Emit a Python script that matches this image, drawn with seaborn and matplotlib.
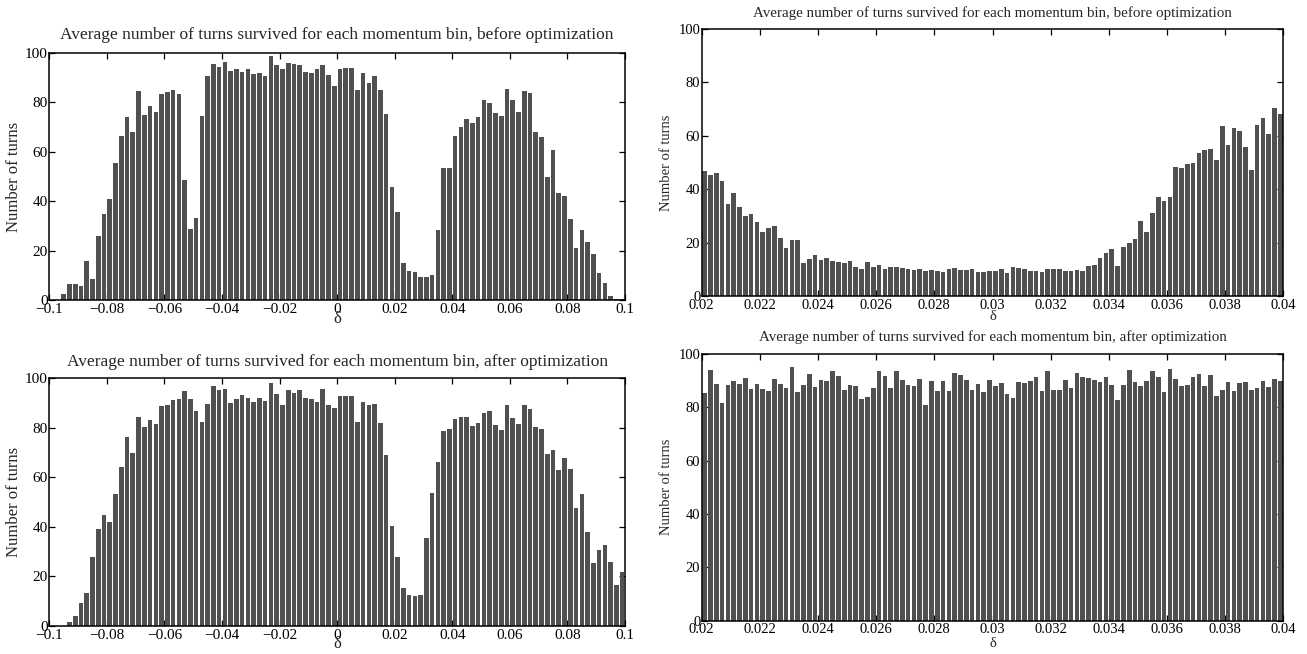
import numpy as np
import pandas as pd
import matplotlib
matplotlib.use("Agg")
import matplotlib.pyplot as plt
import seaborn as sns

# ---------------- data ----------------
left_range = (-0.1, 0.1)      # momentum range, wide panels
right_range = (0.02, 0.04)    # momentum range, zoomed panels
n_bins = 100

before_wide = [0, 0, 2.6, 6.6, 6.7, 5.8, 15.9, 8.5, 26, 35,
               40.8, 55.5, 66.5, 73.9, 68, 84.5, 74.8, 78.5, 75.9, 83.2,
               84.1, 84.9, 83.2, 48.7, 28.7, 33.1, 74.3, 90.7, 95.6, 94.2,
               96.4, 92.5, 93.3, 92.1, 93.5, 91.5, 91.9, 90.6, 98.7, 95.2,
               93.4, 96, 95.4, 95.2, 92.2, 91.7, 93.4, 95, 90.8, 86.7,
               93.5, 93.9, 93.9, 84.8, 91.9, 87.8, 90.7, 84.8, 75.4, 45.8,
               35.7, 15.1, 11.8, 11.3, 9.6, 9.4, 10.2, 28.4, 53.6, 53.4,
               66.5, 69.9, 73.2, 71.7, 74, 80.8, 79.8, 75.5, 74.6, 85.3,
               80.8, 76, 84.5, 83.6, 68.1, 66.1, 49.7, 60.8, 43.2, 42.1,
               32.7, 21, 28.5, 23.7, 18.8, 11, 6.9, 1.6, 0.5, 0.4]

after_wide = [0, 0, 0, 1.7, 4.2, 9.4, 13.3, 27.9, 39.2, 45,
              42.1, 53.2, 64.1, 76.2, 70, 84.5, 80.2, 83, 81.7, 88.7,
              89.1, 91.3, 91.8, 94.8, 91.8, 86.8, 82.5, 89.5, 96.9, 95.2,
              95.6, 89.9, 91.7, 93.4, 91.9, 90.3, 91.9, 91, 98, 93.5,
              89.2, 95.3, 94.2, 95.3, 91.9, 91.5, 90.6, 95.8, 89.2, 88,
              92.7, 93, 93, 82.3, 90.6, 89.1, 89.7, 81.9, 69.1, 40.3,
              28, 15.5, 12.5, 12, 12.5, 35.5, 53.8, 66.3, 78.8, 79.7,
              83.6, 84.4, 84.3, 80.8, 81.9, 85.8, 86.7, 81.3, 79.3, 89.2,
              84, 81.6, 89.2, 87.6, 80.5, 79.4, 69.4, 71, 62.8, 67.9,
              63.4, 47.6, 53.1, 37.9, 25.4, 30.8, 32.9, 25.8, 16.7, 21.9]

before_zoom = [46.9, 45.1, 46.1, 43.1, 34.4, 38.5, 33.4, 30, 30.8, 27.6,
               23.8, 25.6, 26.3, 21.7, 18, 20.8, 20.8, 12.3, 13.8, 15.3,
               13.3, 14.3, 13.1, 12.8, 12.2, 13, 10.8, 10, 12.7, 11,
               11.7, 10.1, 10.7, 10.8, 10.5, 10.1, 9.9, 10, 9.4, 9.6,
               9.4, 9, 10.1, 10.5, 9.9, 9.7, 10.1, 9.1, 9.1, 9.5,
               9.5, 10, 8.7, 10.7, 10.3, 10, 9.4, 9.5, 9, 10,
               10, 10, 9.2, 9.2, 9.7, 9.2, 11.2, 11.5, 14.3, 16,
               17.6, 11.1, 18.3, 19.8, 21.2, 27.9, 24.1, 31, 36.9, 35.5,
               37, 48.4, 47.8, 49.4, 49.9, 53.5, 54.5, 55.1, 50.7, 63.5,
               56.4, 62.7, 61.6, 55.9, 47, 64, 66.5, 60.6, 70.3, 68]

after_zoom = [85.4, 93.9, 88.5, 81.4, 88.1, 89.8, 88.8, 90.9, 86.8, 88.8,
              86.6, 86.1, 90.5, 88.6, 87.1, 95.1, 85.8, 88.4, 92.4, 87.6,
              90, 89.8, 93.5, 91.8, 86.5, 88.1, 87.9, 83, 83.6, 87,
              93.5, 91.6, 87.3, 93.5, 90, 88.1, 87.8, 90.4, 80.9, 89.8,
              85.9, 89.9, 86, 92.8, 92, 90.3, 86.3, 88.8, 85.5, 90.1,
              87.8, 89.1, 84.9, 83.5, 89.5, 88.9, 89.9, 91.4, 86.1, 93.5,
              86.3, 86.3, 90, 87.1, 92.6, 91.4, 90.9, 90.1, 89.5, 91.3,
              88.4, 82.6, 88.1, 94, 89.4, 88, 89.8, 93.4, 91.4, 85.6,
              94.1, 90.5, 87.9, 88.1, 91.4, 92.5, 88, 92, 84, 86.4,
              89.4, 86.1, 89.1, 89.4, 86.4, 87.3, 89.6, 87.4, 90.5, 89.8]

left_xticks = [-0.1, -0.08, -0.06, -0.04, -0.02, 0, 0.02, 0.04, 0.06, 0.08, 0.1]
left_xticklabels = ["\u22120.1", "\u22120.08", "\u22120.06", "\u22120.04", "\u22120.02",
                    "0", "0.02", "0.04", "0.06", "0.08", "0.1"]
right_xticks = [0.02, 0.022, 0.024, 0.026, 0.028, 0.03, 0.032, 0.034, 0.036, 0.038, 0.04]
right_xticklabels = ["0.02", "0.022", "0.024", "0.026", "0.028", "0.03",
                     "0.032", "0.034", "0.036", "0.038", "0.04"]
yticks = [0, 20, 40, 60, 80, 100]
yticklabels = ["0", "20", "40", "60", "80", "100"]

title_before = "Average number of turns survived for each momentum bin, before optimization"
title_after = "Average number of turns survived for each momentum bin, after optimization"

# ---------------- style ----------------
sns.set_style("ticks")
plt.rcParams["font.family"] = ["Liberation Serif", "DejaVu Serif"]
plt.rcParams["axes.linewidth"] = 1.1
plt.rcParams["axes.edgecolor"] = "black"

BAR = "#505050"
W, H = 1307, 654
fig = plt.figure(figsize=(W / 100, H / 100), dpi=100)


def px_axes(x0, x1, y0, y1):
    return fig.add_axes([x0 / W, 1 - y1 / H, (x1 - x0) / W, (y1 - y0) / H])


panels = [
    dict(box=(49.3, 625, 52.7, 300.3), rng=left_range, vals=before_wide, title=title_before,
         xt=left_xticks, xtl=left_xticklabels, fs_title=12.5, fs_tick=11, fs_lab=12,
         ty=17.7, dy=10.5, ylx=-27.6),
    dict(box=(49.3, 625, 378.3, 626), rng=left_range, vals=after_wide, title=title_after,
         xt=left_xticks, xtl=left_xticklabels, fs_title=12.5, fs_tick=11, fs_lab=12,
         ty=16.6, dy=10, ylx=-27.6),
    dict(box=(701.7, 1283.3, 28.7, 296), rng=right_range, vals=before_zoom, title=title_before,
         xt=right_xticks, xtl=right_xticklabels, fs_title=10.8, fs_tick=10.5, fs_lab=10.5,
         ty=15.7, dy=14, ylx=-28.4),
    dict(box=(701.7, 1283.3, 353.7, 620.7), rng=right_range, vals=after_zoom, title=title_after,
         xt=right_xticks, xtl=right_xticklabels, fs_title=10.8, fs_tick=10.5, fs_lab=10.5,
         ty=16.4, dy=16, ylx=-28.4),
]

for p in panels:
    x0, x1, y0, y1 = p["box"]
    ax = px_axes(x0, x1, y0, y1)
    lo, hi = p["rng"]
    edges = np.linspace(lo, hi, n_bins + 1)
    df = pd.DataFrame({"delta": (edges[:-1] + edges[1:]) / 2,
                       "turns": np.asarray(p["vals"], dtype=float)})
    sns.histplot(data=df, x="delta", weights="turns", bins=n_bins, binrange=(lo, hi),
                 shrink=0.8, color=BAR, alpha=1, edgecolor=BAR, linewidth=0, ax=ax)
    ax.set_xlim(lo, hi)
    ax.set_ylim(0, 100)
    ax.set_xticks(p["xt"])
    ax.set_xticklabels(p["xtl"])
    ax.set_yticks(yticks)
    ax.set_yticklabels(yticklabels)
    for s in ax.spines.values():
        s.set_visible(True)
        s.set_color("black")
    ax.tick_params(direction="in", top=True, right=True, length=4.5, width=0.9,
                   labelsize=p["fs_tick"], colors="black")
    ax.tick_params(axis="x", pad=2)
    ax.tick_params(axis="y", pad=1)
    axh = y1 - y0
    axw = x1 - x0
    ax.set_title(p["title"], fontsize=p["fs_title"], y=1 + p["ty"] / axh, va="center", pad=0)
    ax.set_xlabel("\u03b4", fontsize=p["fs_lab"])
    ax.xaxis.set_label_coords(0.5, -p["dy"] / axh)
    ax.set_ylabel("Number of turns", fontsize=p["fs_lab"])
    ax.yaxis.set_label_coords(p["ylx"] / axw, 0.5)

fig.savefig("out.png", dpi=100)
